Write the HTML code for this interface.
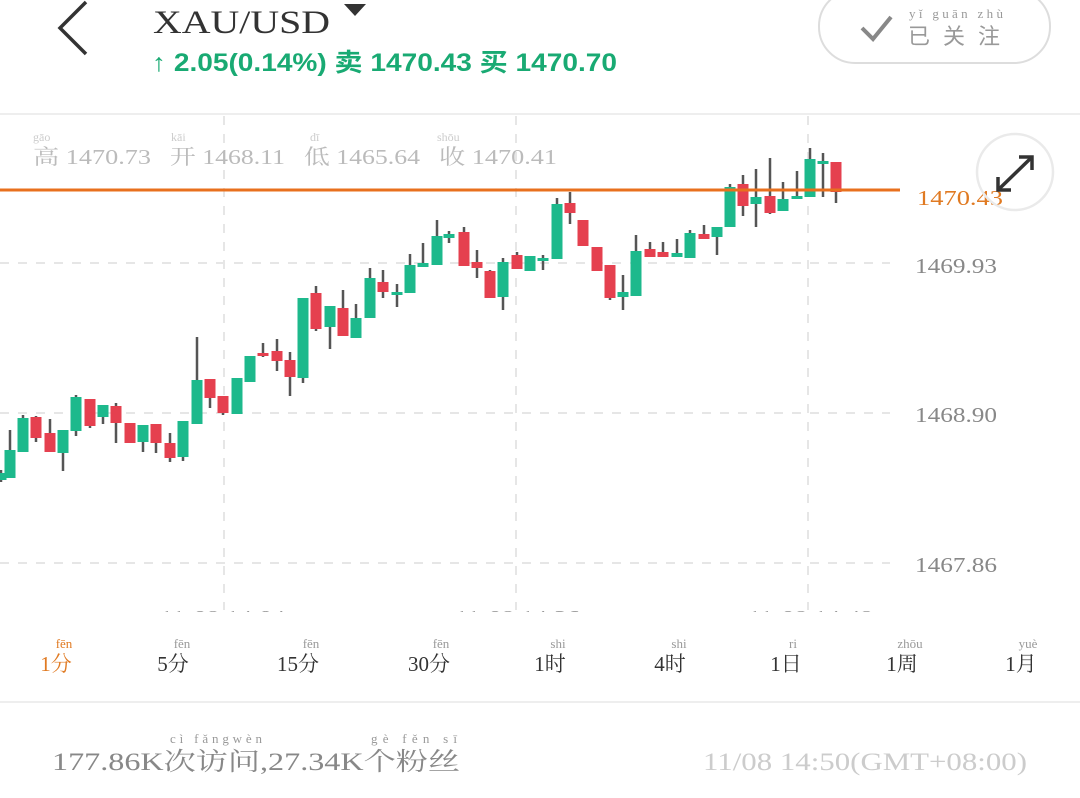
<!DOCTYPE html>
<html><head><meta charset="utf-8"><style>
html,body{margin:0;padding:0;background:#fff;width:1080px;height:798px;overflow:hidden}
svg{display:block}
.s{font-family:"Liberation Serif","Noto Serif CJK SC",serif}
.a{font-family:"Liberation Sans","Noto Sans CJK SC",sans-serif}
</style></head><body>
<svg width="1080" height="798" xmlns="http://www.w3.org/2000/svg">
<!-- header -->
<polyline points="86,2 60,28 86,54" fill="none" stroke="#333" stroke-width="3.5"/>
<text x="153" y="33" class="s" font-size="33" fill="#333" textLength="177" lengthAdjust="spacingAndGlyphs">XAU/USD</text>
<polygon points="344,4 366,4 355,16" fill="#333"/>
<text x="152" y="71" class="a" font-size="25" font-weight="bold" fill="#19aa73" textLength="465" lengthAdjust="spacingAndGlyphs">↑ 2.05(0.14%) 卖 1470.43 买 1470.70</text>
<rect x="819" y="-10" width="231" height="73" rx="36" fill="#fff" stroke="#ddd" stroke-width="2"/>
<polyline points="862,28 873,39 891,17" fill="none" stroke="#888" stroke-width="4"/>
<text x="909" y="18" class="s" font-size="13" fill="#999" textLength="94" lengthAdjust="spacing">yǐ  guān zhù</text>
<text x="908" y="44" class="a" font-size="22" fill="#999" textLength="92" lengthAdjust="spacing">已关注</text>
<!-- chart frame -->
<line x1="0" y1="114" x2="1080" y2="114" stroke="#eee" stroke-width="2"/>
<g stroke="#e6e6e6" stroke-width="2" stroke-dasharray="9,9">
<line x1="0" y1="263" x2="890" y2="263"/>
<line x1="0" y1="413" x2="890" y2="413"/>
<line x1="0" y1="563" x2="890" y2="563"/>
<line x1="224" y1="116" x2="224" y2="610"/>
<line x1="516" y1="116" x2="516" y2="610"/>
<line x1="808" y1="116" x2="808" y2="610"/>
</g>
<g class="s" font-size="12" fill="#ccc">
<text x="33" y="141">gāo</text><text x="171" y="141">kāi</text><text x="310" y="141">dī</text><text x="437" y="141">shōu</text>
</g>
<g class="s" font-size="21" fill="#bbb">
<text x="33" y="164" textLength="118" lengthAdjust="spacingAndGlyphs">高 1470.73</text>
<text x="170" y="164" textLength="115" lengthAdjust="spacingAndGlyphs">开 1468.11</text>
<text x="304" y="164" textLength="116" lengthAdjust="spacingAndGlyphs">低 1465.64</text>
<text x="439" y="164" textLength="118" lengthAdjust="spacingAndGlyphs">收 1470.41</text>
</g>
<g class="s" font-size="21" fill="#888">
<text x="915" y="273" textLength="82" lengthAdjust="spacingAndGlyphs">1469.93</text>
<text x="915" y="422" textLength="82" lengthAdjust="spacingAndGlyphs">1468.90</text>
<text x="915" y="572" textLength="82" lengthAdjust="spacingAndGlyphs">1467.86</text>
</g>
<!-- candles -->
<g id="c"></g>
<line x1="0" y1="190" x2="900" y2="190" stroke="#e8701e" stroke-width="3"/>
<text x="917" y="205" class="s" font-size="21" fill="#e07a22" textLength="86" lengthAdjust="spacingAndGlyphs">1470.43</text>
<circle cx="1015" cy="172" r="38" fill="none" stroke="#eaeaea" stroke-width="2.5"/>
<g stroke="#333" stroke-width="3.5" fill="none">
<line x1="998" y1="190" x2="1032" y2="157"/>
<polyline points="1019,157 1032,157 1032,170"/>
<polyline points="998,177 998,190 1011,190"/>
</g>
<!-- time axis (clipped) -->
<clipPath id="cl"><rect x="0" y="0" width="1080" height="612"/></clipPath>
<g clip-path="url(#cl)" class="s" font-size="20" fill="#999">
<text x="160" y="624" textLength="125" lengthAdjust="spacingAndGlyphs">11-08 14:04</text>
<text x="455" y="624" textLength="125" lengthAdjust="spacingAndGlyphs">11-08 14:26</text>
<text x="748" y="624" textLength="125" lengthAdjust="spacingAndGlyphs">11-08 14:48</text>
</g>
<!-- tabs -->
<g class="s" font-size="13" fill="#999" text-anchor="middle">
<text x="64" y="648" fill="#e07a22">fēn</text><text x="182" y="648">fēn</text><text x="311" y="648">fēn</text><text x="441" y="648">fēn</text>
<text x="558" y="648">shi</text><text x="679" y="648">shi</text><text x="793" y="648">ri</text><text x="910" y="648">zhōu</text><text x="1028" y="648">yuè</text>
</g>
<g class="s" font-size="21" fill="#333" text-anchor="middle">
<text x="56" y="671" fill="#e07a22">1分</text><text x="173" y="671">5分</text><text x="298" y="671">15分</text><text x="429" y="671">30分</text>
<text x="550" y="671">1时</text><text x="670" y="671">4时</text><text x="786" y="671">1日</text><text x="902" y="671">1周</text><text x="1021" y="671">1月</text>
</g>
<line x1="0" y1="702" x2="1080" y2="702" stroke="#eee" stroke-width="2"/>
<g class="s" font-size="13" fill="#999">
<text x="170" y="743" textLength="92" lengthAdjust="spacing">cì fǎngwèn</text><text x="371" y="743" textLength="86" lengthAdjust="spacing">gè  fěn  sī</text>
</g>
<text x="52" y="770" class="s" font-size="25" fill="#888" textLength="408" lengthAdjust="spacingAndGlyphs">177.86K次访问,27.34K个粉丝</text>
<text x="703" y="770" class="s" font-size="25" fill="#ccc" textLength="324" lengthAdjust="spacingAndGlyphs">11/08 14:50(GMT+08:00)</text>
</svg>
<script>
var d=[[1,'G',473,480,470,482],[10,'G',450,478,430,478],[23,'G',418,452,415,452],[36,'R',417,438,416,442],[50,'R',433,452,419,452],[63,'G',430,453,430,471],[76,'G',397,431,395,436],[90,'R',399,426,399,428],[103,'G',405,417,405,424],[116,'R',406,423,403,443],[130,'R',423,443,423,443],[143,'G',425,442,425,452],[156,'R',424,443,424,453],[170,'R',443,458,433,462],[183,'G',421,457,421,461],[197,'G',380,424,337,424],[210,'R',379,398,379,408],[223,'R',396,413,396,415],[237,'G',378,414,378,414],[250,'G',356,382,356,382],[263,'R',353,356,343,357],[277,'R',351,361,339,371],[290,'R',360,377,352,396],[303,'G',298,378,298,383],[316,'R',293,329,286,331],[330,'G',306,327,306,349],[343,'R',308,336,290,336],[356,'G',318,338,304,338],[370,'G',278,318,268,318],[383,'R',282,292,270,298],[397,'G',292,294,284,307],[410,'G',265,293,254,293],[423,'G',263,267,243,267],[437,'G',236,265,220,265],[449,'G',234,238,231,243],[464,'R',232,266,227,266],[477,'R',262,268,250,278],[490,'R',271,298,270,298],[503,'G',262,297,258,310],[517,'R',255,269,252,269],[530,'G',256,271,256,271],[543,'G',258,261,255,270],[557,'G',204,259,198,259],[570,'R',203,213,192,224],[583,'R',220,246,220,246],[597,'R',247,271,247,271],[610,'R',265,298,265,300],[623,'G',292,297,275,310],[636,'G',251,296,235,296],[650,'R',249,257,242,257],[663,'R',252,257,242,257],[677,'G',253,257,239,257],[690,'G',233,258,230,258],[704,'R',234,239,225,239],[717,'G',227,237,227,255],[730,'G',187,227,184,227],[743,'R',184,206,175,216],[756,'G',197,204,169,227],[770,'R',196,213,158,214],[783,'G',199,211,182,211],[797,'G',196,199,171,199],[810,'G',159,197,148,197],[823,'G',161,163,153,197],[836,'R',162,192,162,203]];
var s='';d.forEach(function(c){var col=c[1]=='G'?'#1db98c':'#e5404f';var h=Math.max(c[3]-c[2],3);
s+='<line x1="'+c[0]+'" x2="'+c[0]+'" y1="'+c[4]+'" y2="'+c[5]+'" stroke="#555" stroke-width="2.5"/>';
s+='<rect x="'+(c[0]-5.5)+'" y="'+c[2]+'" width="11" height="'+h+'" fill="'+col+'"/>';});
document.getElementById('c').innerHTML=s;
</script>
</body></html>
